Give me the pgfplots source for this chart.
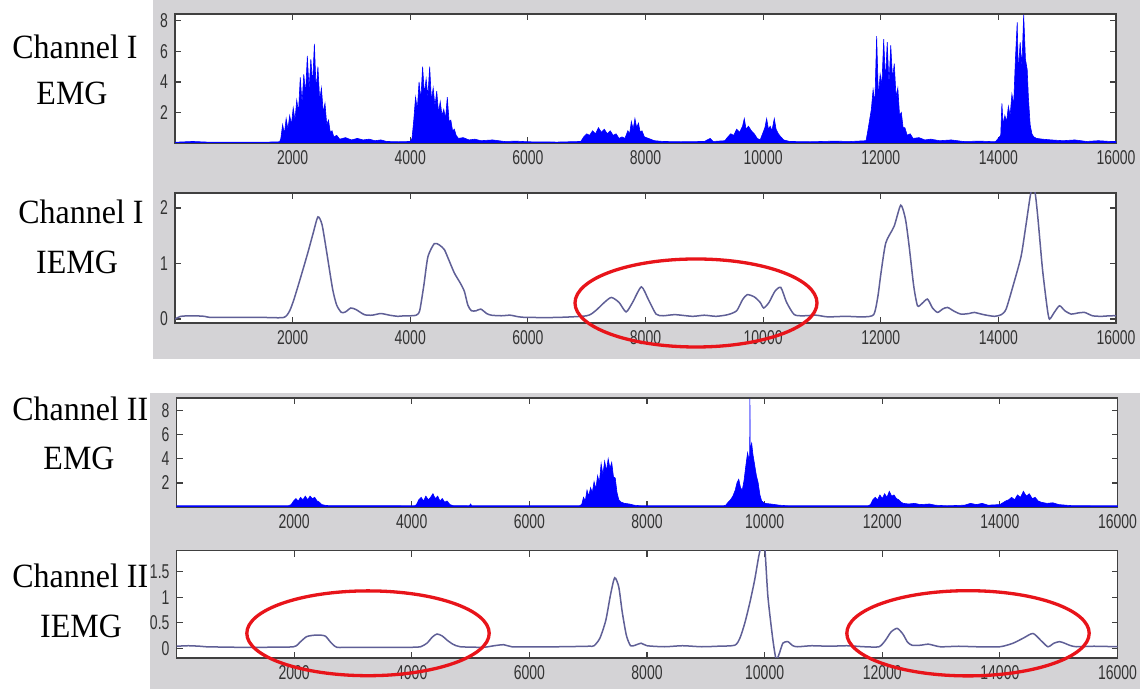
\documentclass[border=0pt]{standalone}
\usepackage{fontspec}
\usepackage{pgfplots}
\pgfplotsset{compat=1.18}
\newfontfamily\labelfont[FakeStretch=0.94]{Liberation Serif}
\newfontfamily\tickfont[FakeStretch=0.7]{Liberation Sans}
\definecolor{bggray}{RGB}{212,211,214}
\definecolor{iemgline}{RGB}{95,95,150}
\definecolor{markred}{RGB}{232,20,26}

\pgfplotsset{
  panel/.style={
    scale only axis, width=470.5pt, anchor=south west,
    xmin=0, xmax=16000,
    xtick={2000,4000,...,16000},
    axis background/.style={fill=white},
    axis line style={black!75, line width=0.8pt},
    tick style={black!75, line width=0.6pt},
    major tick length=3pt,
    tick align=inside,
    ticklabel style={font={\tickfont\fontsize{10}{12}\selectfont}, text=black!80},
    /pgf/number format/1000 sep={},
    /pgf/number format/assume math mode=true,
    scaled ticks=false,
  },
  emg/.style={fill=blue, draw=blue, line width=0.3pt},
  iemg/.style={iemgline, line width=0.75pt, smooth, tension=0.4},
}

\begin{document}
\begin{tikzpicture}
\useasboundingbox (0,0) rectangle (573pt,344.5pt);
\fill[bggray] (76.5pt,165pt) rectangle (570pt,344.5pt);
\fill[bggray] (75pt,0pt) rectangle (570pt,148pt);

% Channel I EMG
\begin{axis}[panel, at={(87.5pt,273pt)}, height=64.5pt,
  ymin=0, ymax=8.45, ytick={2,4,6,8}]
\addplot[emg] coordinates {
(0,0) (0,0.05) (300,0.1) (600,0.05) (1000,0.06) (1500,0.05) (1780,0.08)
(1800,0.3) (1830,1.2) (1860,0.6) (1890,1.6) (1920,0.9) (1950,1.8) (1980,1.2)
(2010,2.3) (2040,1.5) (2070,2.8) (2100,2.0) (2130,4.3) (2160,2.6) (2190,4.5)
(2220,3.2) (2250,5.7) (2280,3.5) (2310,5.5) (2340,3.8) (2370,6.5) (2400,3.4)
(2430,5.0) (2460,2.8) (2490,3.6) (2520,2.0) (2550,2.6) (2580,1.2) (2610,1.5)
(2640,0.7) (2670,0.8) (2700,0.4) (2750,0.5) (2800,0.25) (2900,0.35) (3000,0.2)
(3100,0.3) (3200,0.2) (3300,0.25) (3400,0.15) (3500,0.2) (3600,0.1) (3800,0.08)
(4000,0.1) (4030,0.3)
(4060,1.5) (4090,3.0) (4120,2.2) (4150,4.0) (4180,2.8) (4210,5.0) (4240,3.2)
(4270,4.2) (4300,3.0) (4330,5.0) (4360,2.8) (4390,3.6) (4420,2.4) (4450,3.4)
(4480,2.0) (4510,2.7) (4540,1.8) (4570,2.2) (4600,1.6) (4630,3.0) (4660,1.4)
(4690,1.5) (4720,0.8) (4750,0.9) (4780,0.5) (4820,0.3) (4900,0.35) (5000,0.2)
(5100,0.25) (5200,0.15) (5400,0.2) (5600,0.1) (5800,0.12) (6000,0.08) (6500,0.06)
(6900,0.1) (6950,0.4) (7000,0.6) (7050,0.5) (7100,0.8) (7150,0.6) (7200,1.0)
(7250,0.7) (7300,0.9) (7350,0.6) (7400,0.8) (7450,0.5) (7500,0.6) (7550,0.3)
(7600,0.4) (7650,0.3) (7700,0.8) (7730,0.6) (7760,1.4) (7790,0.9) (7820,1.6)
(7850,1.0) (7880,1.3) (7910,0.7) (7940,0.8) (7980,0.4) (8050,0.3) (8150,0.15)
(8300,0.1) (8600,0.08) (9000,0.1) (9100,0.3) (9150,0.1) (9350,0.15) (9400,0.4)
(9450,0.6) (9500,0.5) (9550,0.9) (9600,0.7) (9650,1.1) (9680,1.6) (9710,0.9)
(9750,1.1) (9800,0.8) (9850,0.6) (9900,0.3) (9950,0.2) (10000,0.7) (10030,1.0)
(10060,1.6) (10090,0.9) (10120,1.1) (10150,0.8) (10190,1.6) (10220,0.9)
(10260,0.6) (10300,0.4) (10350,0.2) (10450,0.1) (10800,0.08) (11200,0.12)
(11500,0.1) (11750,0.15)
(11780,0.8) (11810,1.5) (11840,2.2) (11870,3.5) (11900,2.6) (11930,7.0)
(11960,3.0) (11990,4.5) (12020,3.8) (12050,6.8) (12080,4.0) (12110,6.6)
(12140,3.8) (12170,6.4) (12200,4.2) (12230,5.2) (12260,3.0) (12290,3.6)
(12320,1.8) (12350,2.0) (12380,1.0) (12410,1.0) (12450,0.5) (12500,0.6)
(12550,0.3) (12650,0.35) (12750,0.2) (12850,0.25) (13000,0.15) (13200,0.2)
(13400,0.1) (13700,0.12) (13950,0.08)
(14040,0.5) (14060,2.6) (14080,1.2) (14110,1.8) (14140,1.4) (14170,2.4)
(14200,1.8) (14230,3.2) (14260,2.5) (14290,5.5) (14320,7.9) (14340,4.5)
(14370,6.6) (14400,5.0) (14430,8.4) (14460,5.5) (14490,4.8) (14510,3.0)
(14540,1.2) (14570,0.6) (14600,0.4) (14650,0.3) (14750,0.25) (14900,0.2)
(15100,0.15) (15300,0.2) (15500,0.1) (15700,0.15) (15900,0.1) (16000,0.1) (16000,0)
};
\end{axis}

% Channel I IEMG
\begin{axis}[panel, at={(87.5pt,183pt)}, height=65pt,
  ymin=-0.07, ymax=2.27, ytick={0,1,2}]
\addplot[iemg] coordinates {
(0,0) (100,0.05) (300,0.06) (500,0.05) (600,0.03) (1000,0.03) (1500,0.03)
(1850,0.03) (1950,0.15) (2030,0.38) (2150,0.8) (2260,1.2) (2350,1.55)
(2430,1.84) (2500,1.7) (2580,1.2) (2680,0.54) (2750,0.25) (2830,0.12)
(2900,0.13) (2990,0.2) (3080,0.17) (3220,0.08) (3350,0.07) (3500,0.1)
(3650,0.07) (3790,0.05) (3900,0.06) (4010,0.06) (4100,0.07) (4160,0.15)
(4230,0.6) (4300,1.12) (4410,1.36) (4500,1.33) (4580,1.25) (4650,1.08)
(4750,0.83) (4850,0.65) (4920,0.5) (4980,0.25) (5040,0.15) (5120,0.15)
(5200,0.18) (5300,0.1) (5380,0.07) (5550,0.06) (5700,0.07) (5850,0.04)
(6000,0.03) (6500,0.03) (7000,0.06) (7150,0.15) (7300,0.3) (7420,0.39)
(7550,0.3) (7670,0.13) (7780,0.3) (7930,0.58) (8050,0.35) (8180,0.09)
(8300,0.06) (8500,0.08) (8800,0.05) (9000,0.07) (9200,0.05) (9400,0.08)
(9550,0.15) (9650,0.35) (9730,0.44) (9850,0.4) (9950,0.3) (10010,0.2)
(10100,0.3) (10200,0.5) (10300,0.57) (10400,0.3) (10530,0.08) (10700,0.06)
(10900,0.07) (11100,0.04) (11400,0.05) (11700,0.04) (11880,0.08) (11950,0.4)
(12000,0.8) (12085,1.37) (12227,1.67) (12340,2.05) (12420,1.8) (12483,1.31)
(12560,0.6) (12625,0.24) (12700,0.28) (12795,0.36) (12880,0.2) (12966,0.12)
(13050,0.18) (13136,0.21) (13250,0.14) (13364,0.09) (13500,0.1) (13591,0.12)
(13750,0.08) (13932,0.05) (14050,0.08) (14131,0.18) (14250,0.6) (14386,1.13)
(14470,1.7) (14557,2.3) (14620,2.3) (14670,1.84) (14750,0.9) (14830,0.2)
(14869,0.0) (14950,0.12) (15040,0.24) (15130,0.15) (15239,0.09) (15350,0.11)
(15466,0.12) (15600,0.06) (15750,0.05) (15900,0.06) (16000,0.06)
};
\end{axis}

% Channel II EMG
\begin{axis}[panel, at={(88.25pt,91pt)}, height=54.5pt,
  ymin=0, ymax=9.05, ytick={2,4,6,8}]
\addplot[emg] coordinates {
(0,0) (0,0.1) (1900,0.1)
(1950,0.2) (1990,0.5) (2030,0.7) (2070,0.5) (2110,0.8) (2150,0.6) (2190,0.9)
(2230,0.6) (2270,0.9) (2310,0.7) (2350,0.8) (2390,0.5) (2430,0.4) (2470,0.2)
(2550,0.12) (4050,0.1)
(4080,0.2) (4120,0.6) (4160,0.8) (4200,0.5) (4240,0.9) (4280,0.6) (4320,0.8)
(4360,1.1) (4400,0.7) (4440,0.9) (4480,0.5) (4520,0.7) (4560,0.4) (4600,0.5)
(4650,0.2) (4700,0.12) (4980,0.1) (5000,0.25) (5020,0.1) (6850,0.1)
(6890,0.2) (6920,0.8) (6950,0.5) (6980,1.4) (7010,0.9) (7040,1.6) (7070,1.2)
(7100,2.1) (7130,1.5) (7160,2.6) (7190,2.0) (7220,3.6) (7250,2.7) (7280,3.8)
(7310,3.0) (7340,4.0) (7370,3.2) (7400,3.7) (7430,2.5) (7460,2.4) (7490,1.2)
(7520,0.6) (7560,0.4) (7620,0.3) (7700,0.25) (7780,0.15) (7900,0.1) (9300,0.1)
(9340,0.15) (9380,0.4) (9420,0.6) (9460,0.9) (9500,1.4) (9530,2.0) (9560,2.3)
(9590,1.6) (9620,1.4) (9650,2.2) (9680,3.4) (9710,4.5) (9740,3.8) (9747,4.6)
(9750,9.0) (9753,4.8) (9780,5.3) (9800,4.4) (9830,3.5) (9860,2.6) (9890,2.0)
(9920,1.0) (9950,0.5) (10000,0.3) (10100,0.25) (10250,0.15) (10400,0.1)
(11760,0.1)
(11800,0.2) (11840,0.6) (11880,0.8) (11920,0.6) (11960,1.0) (12000,0.7)
(12040,1.1) (12080,0.8) (12120,1.3) (12160,0.9) (12200,1.0) (12240,0.7)
(12280,0.6) (12320,0.4) (12360,0.3) (12450,0.25) (12550,0.3) (12650,0.2)
(12800,0.25) (12900,0.15) (13100,0.1) (13400,0.15) (13500,0.3) (13600,0.2)
(13700,0.3) (13800,0.15) (14000,0.2) (14100,0.5) (14150,0.6) (14200,0.8)
(14250,0.6) (14300,1.0) (14350,0.8) (14400,1.3) (14450,0.9) (14500,1.1)
(14550,0.7) (14600,0.8) (14650,0.5) (14700,0.4) (14800,0.3) (14900,0.35)
(15000,0.2) (15200,0.12) (15600,0.1) (16000,0.1) (16000,0)
};
\end{axis}

% Channel II IEMG
\begin{axis}[panel, at={(88.25pt,15.5pt)}, height=53.65pt,
  ymin=-0.19, ymax=1.91, ytick={0,0.5,1,1.5}]
\addplot[iemg] coordinates {
(0,0.04) (200,0.05) (400,0.04) (500,0.03) (1000,0.02) (1500,0.02) (1990,0.03)
(2100,0.12) (2216,0.23) (2386,0.26) (2528,0.24) (2620,0.12) (2727,0.02)
(3000,0.02) (3500,0.02) (4000,0.02) (4150,0.03) (4259,0.1) (4350,0.22)
(4430,0.28) (4520,0.24) (4600,0.16) (4700,0.08) (4826,0.03) (5218,0.02)
(5400,0.05) (5563,0.07) (5700,0.03) (6000,0.03) (6500,0.03) (7000,0.04)
(7100,0.05) (7200,0.2) (7300,0.55) (7380,1.05) (7450,1.38) (7520,1.2)
(7580,0.7) (7650,0.25) (7720,0.05) (7800,0.06) (7900,0.1) (8000,0.05)
(8300,0.03) (8600,0.05) (8930,0.03) (9200,0.04) (9493,0.06) (9580,0.2)
(9662,0.49) (9750,0.9) (9831,1.34) (9900,1.8) (9944,2.0) (10000,2.0)
(10056,1.01) (10141,0.16) (10197,-0.22) (10250,-0.1) (10310,0.1) (10394,0.13)
(10480,0.05) (10563,0.03) (10800,0.05) (11100,0.04) (11400,0.05) (11700,0.03)
(11944,0.03) (12050,0.15) (12150,0.32) (12254,0.39) (12350,0.28) (12430,0.12)
(12507,0.06) (12650,0.06) (12789,0.08) (12986,0.03) (13300,0.04) (13600,0.03)
(14000,0.03) (14225,0.1) (14400,0.2) (14563,0.29) (14700,0.15) (14817,0.03)
(14920,0.1) (15014,0.13) (15100,0.1) (15183,0.06) (15296,0.03) (15600,0.04)
(16000,0.03)
};
\end{axis}

% labels and marks, in pixel units of the reference
\begin{scope}[x=0.5pt, y=-0.5pt, yshift=344.5pt,
  every node/.style={font={\labelfont\fontsize{17}{20}\selectfont}, inner sep=0pt}]
\node[anchor=base west] at (12,59) {Channel I};
\node[anchor=base] at (72,105) {EMG};
\node[anchor=base west] at (18,224) {Channel I};
\node[anchor=base] at (77,274) {IEMG};
\node[anchor=base west] at (12,421) {Channel II};
\node[anchor=base] at (79,470) {EMG};
\node[anchor=base west] at (12,588) {Channel II};
\node[anchor=base] at (81,638) {IEMG};
\draw[markred, line width=1.65pt] (696,303) ellipse [x radius=60.5pt, y radius=22pt];
\draw[markred, line width=1.65pt] (368,633.3) ellipse [x radius=60.6pt, y radius=21.2pt];
\draw[markred, line width=1.65pt] (968,633.3) ellipse [x radius=60.6pt, y radius=21.3pt];
\end{scope}
\end{tikzpicture}
\end{document}
